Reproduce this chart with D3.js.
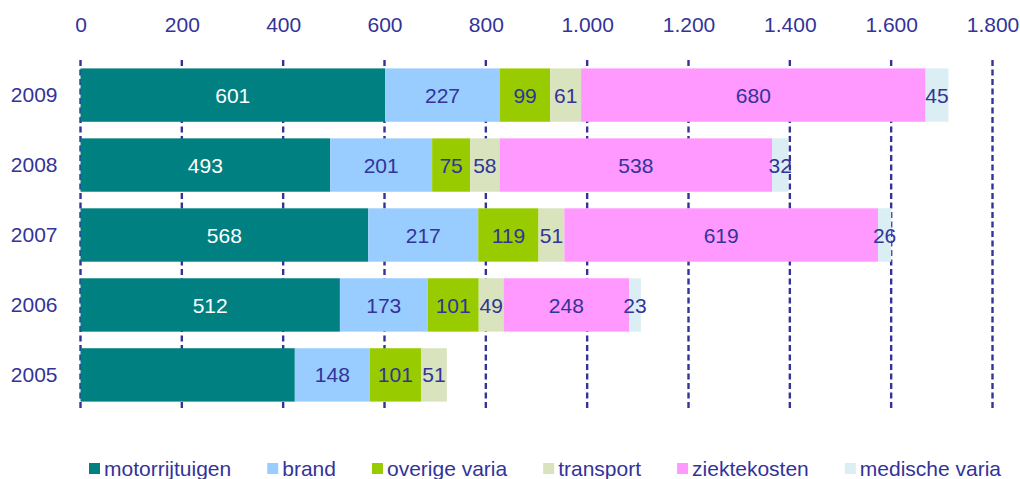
<!DOCTYPE html>
<html>
<head>
<meta charset="utf-8">
<script src="https://cdn.jsdelivr.net/npm/d3@7"></script>
<style>
  body { margin: 0; background: #fff; }
  svg text { font-family: Arial, "Liberation Sans", sans-serif; }
</style>
</head>
<body>
<svg id="chart"></svg>
<script>
const WIDTH = 1020;
const HEIGHT = 479;
const TEXT_COLOR = "#333399";

const years = ["2009", "2008", "2007", "2006", "2005"];
const series = ["motorrijtuigen", "brand", "overige varia", "transport", "ziektekosten", "medische varia"];
const colors = ["#008080", "#99ccff", "#99cc00", "#d9e3bd", "#ff99ff", "#daeef3"];
const motorrijtuigen = [601, 493, 568, 512, 423];
const brand = [227, 201, 217, 173, 148];
const overigeVaria = [99, 75, 119, 101, 101];
const transport = [61, 58, 51, 49, 51];
const ziektekosten = [680, 538, 619, 248, 0];
const medischeVaria = [45, 32, 26, 23, 0];
// 2005 motorrijtuigen has no label in the original
const hiddenLabels = [[0, 4]];
const xTicks = [0, 200, 400, 600, 800, 1000, 1200, 1400, 1600, 1800];

const values = [motorrijtuigen, brand, overigeVaria, transport, ziektekosten, medischeVaria];
const rows = years.map((y, i) => {
   const row = { year: y };
   series.forEach((s, j) => row[s] = values[j][i]);
   return row;
});

const nl = d3.formatLocale({ decimal: ",", thousands: ".", grouping: [3], currency: ["", ""] });
const fmt = nl.format(",");

const svg = d3.select("#chart").attr("width", WIDTH).attr("height", HEIGHT);

const xScale = d3.scaleLinear().domain([0, 1800]).range([80.5, 992.5]);
const yScale = d3.scaleBand().domain(years).range([60, 410]).paddingInner(0.237).paddingOuter(0.12);

// dashed vertical gridlines
svg.append("g")
   .selectAll("line")
   .data(xTicks)
   .join("line")
   .attr("x1", d => xScale(d)).attr("x2", d => xScale(d))
   .attr("y1", 60).attr("y2", 409)
   .attr("stroke", TEXT_COLOR)
   .attr("stroke-width", 2.4)
   .attr("stroke-dasharray", "6,3.5");

const stack = d3.stack().keys(series)(rows);

const layers = svg.append("g")
   .selectAll("g")
   .data(stack)
   .join("g")
   .attr("fill", (_, i) => colors[i]);

layers.selectAll("rect")
   .data(d => d)
   .join("rect")
   .attr("x", d => xScale(d[0]))
   .attr("y", d => yScale(d.data.year))
   .attr("width", d => xScale(d[1]) - xScale(d[0]))
   .attr("height", yScale.bandwidth());

// segment labels
stack.forEach((layer, si) => {
   svg.append("g")
      .selectAll("text")
      .data(layer.filter((d, ri) => d[1] - d[0] > 0 && !hiddenLabels.some(h => h[0] === si && h[1] === ri)))
      .join("text")
      .attr("x", d => (xScale(d[0]) + xScale(d[1])) / 2)
      .attr("y", d => yScale(d.data.year) + yScale.bandwidth() / 2)
      .attr("dy", "0.36em")
      .attr("text-anchor", "middle")
      .attr("font-size", "21px")
      .attr("fill", si === 0 ? "#ffffff" : TEXT_COLOR)
      .text(d => d[1] - d[0]);
});

// top axis
const axisX = svg.append("g")
   .attr("transform", "translate(0,60)")
   .call(d3.axisTop(xScale).tickValues(xTicks).tickFormat(fmt).tickSize(0).tickPadding(28));
axisX.select(".domain").remove();
axisX.selectAll("text").attr("font-size", "21px").attr("fill", TEXT_COLOR);

// left axis
const axisY = svg.append("g")
   .attr("transform", "translate(80.5,0)")
   .call(d3.axisLeft(yScale).tickSize(0).tickPadding(23));
axisY.select(".domain").remove();
axisY.selectAll("text").attr("font-size", "21px").attr("fill", TEXT_COLOR);

// legend
const legend = svg.append("g").attr("id", "legend");
let lx = 89;
series.forEach((s, i) => {
   const item = legend.append("g").attr("transform", `translate(${lx},463)`);
   item.append("rect").attr("width", 11).attr("height", 11).attr("fill", colors[i]);
   const t = item.append("text")
      .attr("x", 15).attr("y", 5.5).attr("dy", "0.36em")
      .attr("font-size", "21px").attr("fill", TEXT_COLOR)
      .text(s);
   lx += 15 + t.node().getComputedTextLength() + 36;
});
</script>
</body>
</html>
